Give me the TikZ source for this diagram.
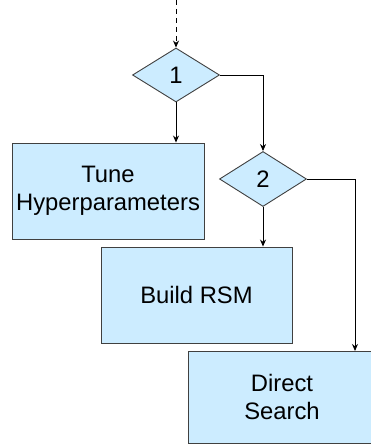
\documentclass[tikz,border=0pt]{standalone}
\usepackage{fontspec}
\setmainfont{Liberation Sans}
\usetikzlibrary{shapes.geometric,arrows.meta}
\definecolor{boxfill}{HTML}{CCECFF}
\definecolor{boxline}{HTML}{404040}
\begin{document}
\begin{tikzpicture}[x=1pt,y=-1pt,
  txt/.style={font=\fontsize{23.8}{28}\selectfont, text=black},
  boxnode/.style={txt, draw=boxline, line width=0.9pt, fill=boxfill, align=center, inner sep=0pt},
  decision/.style={txt, draw=boxline, line width=0.9pt, fill=boxfill, shape=diamond, aspect=1.6, inner sep=0pt, minimum width=87pt, minimum height=54pt},
  conn/.style={draw=black, line width=0.9pt},
  arr/.style={conn, -{Stealth[length=7pt,width=6pt]}}]
\useasboundingbox (0,0) rectangle (371,446);
\node[decision] (d1) at (176,75) {1};
\node[decision, minimum height=55pt] (d2) at (263,179) {2};
\node[boxnode, minimum width=192pt, minimum height=96pt] (tune) at (108,191) {Tune\\Hyperparameters};
\node[boxnode, minimum width=191pt, minimum height=96pt] (rsm) at (196.5,295) {Build RSM};
\node[boxnode, minimum width=188pt, minimum height=92pt] (ds) at (282,397) {Direct\\Search};
\coordinate (top) at (176,0);
\coordinate (dsin) at (355,351);
\draw[arr, dash pattern=on 5pt off 4pt] (top) -- (d1.north);
\draw[arr] (d1.south) -- (d1.south |- tune.north);
\draw[arr] (d1.east) -| (d2.north);
\draw[arr] (d2.south) -- (d2.south |- rsm.north);
\draw[arr] (d2.east) -| (dsin);
\end{tikzpicture}
\end{document}
